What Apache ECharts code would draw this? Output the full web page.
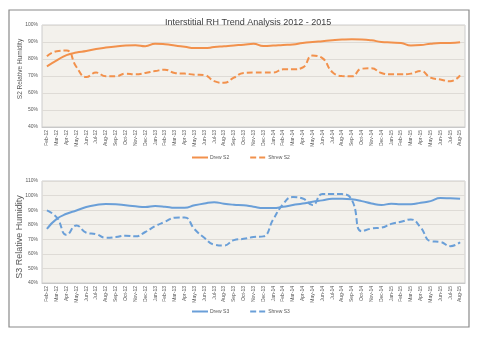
<!DOCTYPE html>
<html>
<head>
<meta charset="utf-8">
<script src="https://cdn.jsdelivr.net/npm/echarts@6/dist/echarts.min.js"></script>
<style>
html,body{margin:0;padding:0;background:#fff;}
#chart{width:479px;height:337px;}
</style>
</head>
<body>
<div id="chart"></div>
<script>
var months = ['Feb-12','Mar-12','Apr-12','May-12','Jun-12','Jul-12','Aug-12','Sep-12','Oct-12','Nov-12','Dec-12','Jan-13',
  'Feb-13','Mar-13','Apr-13','May-13','Jun-13','Jul-13','Aug-13','Sep-13','Oct-13','Nov-13','Dec-13','Jan-14',
  'Feb-14','Mar-14','Apr-14','May-14','Jun-14','Jul-14','Aug-14','Sep-14','Oct-14','Nov-14','Dec-14','Jan-15',
  'Feb-15','Mar-15','Apr-15','May-15','Jun-15','Jul-15','Aug-15'];
var drewS2 = [75.7, 79.2, 82.3, 83.8, 84.7, 85.9, 86.7, 87.3, 88, 88.1, 87.5, 89, 88.7, 88, 87.2, 86.4, 86.4, 87, 87.5, 88, 88.4, 89, 87.7, 87.9, 88.3, 88.6, 89.4, 90, 90.5, 91, 91.4, 91.6, 91.5, 91, 90, 89.7, 89.4, 88, 88.2, 89, 89.4, 89.4, 89.8];
var shrewS2 = [81.6, 84.6, 85, 75.3, 69.4, 72, 69.8, 69.8, 71.4, 71, 71.8, 72.9, 73.7, 71.8, 71.4, 70.8, 70.5, 67, 66, 69, 71.8, 72, 72, 72, 73.9, 73.9, 75, 82, 80.5, 72.4, 70, 69.8, 74.3, 74.5, 71.8, 71, 71, 71.4, 72.9, 69, 67.9, 66.9, 70.4];
var drewS3 = [77.2, 84, 87.5, 89.8, 92.1, 93.5, 94.2, 94, 93.3, 92.6, 92.1, 92.8, 92.4, 91.6, 91.6, 93.3, 94.6, 95.5, 94.4, 93.7, 93.3, 92.3, 91.4, 91.4, 92.3, 93.5, 94.5, 95.8, 96.7, 97.8, 97.8, 97.4, 96.2, 94.6, 93.5, 94.4, 94, 94, 95.1, 96.2, 98.3, 98.1, 97.8];
var shrewS3 = [89.8, 85, 73, 79.5, 74.5, 73.5, 71, 71.5, 72.5, 72, 75, 79, 82, 84.8, 85, 77, 71, 66.4, 65.7, 69.4, 70.3, 71.5, 72, 83.6, 94, 99, 98, 93.5, 101, 101, 101, 97, 75.5, 77.4, 78, 80.6, 82, 83.6, 78, 68.7, 68.2, 65.3, 68];
var yTicksS2 = {min: 40, max: 100, interval: 10};
var yTicksS3 = {min: 40, max: 110, interval: 10};

var orange = '#f2914c';
var blue = '#6a9fd8';
var font = 'Liberation Sans';
var gray = '#595959';

function xAxis(gridIndex) {
  return {
    type: 'category', gridIndex: gridIndex, data: months, boundaryGap: true,
    axisLine: {show: true, lineStyle: {color: '#c8c8c8'}},
    axisTick: {show: false},
    axisLabel: {rotate: 90, interval: 0, fontSize: 5, color: gray, fontFamily: font, margin: 3},
    splitLine: {show: false}
  };
}
function yAxis(gridIndex, t) {
  return {
    type: 'value', gridIndex: gridIndex, min: t.min, max: t.max, interval: t.interval,
    axisLine: {show: false}, axisTick: {show: false},
    axisLabel: {formatter: '{value}%', fontSize: 5, color: gray, fontFamily: font, margin: 4},
    splitLine: {show: true, lineStyle: {color: '#dedbd6', width: 1}}
  };
}
function line(name, data, color, dashed, idx) {
  return {
    name: name, type: 'line', xAxisIndex: idx, yAxisIndex: idx, data: data,
    smooth: true, showSymbol: false, symbol: 'circle', symbolSize: 0,
    lineStyle: {color: color, width: 2, type: dashed ? [6, 3] : 'solid'},
    itemStyle: {color: color}
  };
}
function legend(names, top) {
  return {
    data: names, left: 191, top: top, itemWidth: 16, itemHeight: 4, itemGap: 20,
    itemStyle: {opacity: 0},
    textStyle: {fontSize: 5, color: gray, fontFamily: font, padding: [0, 0, 0, -3]}, padding: 0
  };
}

var chart = echarts.init(document.getElementById('chart'), null, {renderer: 'canvas'});
chart.setOption({
  animation: false,
  backgroundColor: '#ffffff',
  title: {
    text: 'Interstitial RH Trend Analysis 2012 - 2015',
    left: 160, top: 13,
    textStyle: {fontSize: 9, fontWeight: 'normal', color: '#404040', fontFamily: font}
  },
  legend: [legend(['Drew S2', 'Shrew S2'], 155), legend(['Drew S3', 'Shrew S3'], 309)],
  grid: [
    {left: 42, top: 25, width: 423, height: 102, show: true, backgroundColor: '#f3f1ec', borderColor: '#cccccc', borderWidth: 1},
    {left: 42, top: 181, width: 423, height: 102, show: true, backgroundColor: '#f3f1ec', borderColor: '#cccccc', borderWidth: 1}
  ],
  xAxis: [xAxis(0), xAxis(1)],
  yAxis: [yAxis(0, yTicksS2), yAxis(1, yTicksS3)],
  series: [
    line('Drew S2', drewS2, orange, false, 0),
    line('Shrew S2', shrewS2, orange, true, 0),
    line('Drew S3', drewS3, blue, false, 1),
    line('Shrew S3', shrewS3, blue, true, 1)
  ],
  graphic: [
    {type: 'rect', shape: {x: 9, y: 10, width: 460, height: 317}, silent: true,
     style: {fill: 'none', stroke: '#8a8a8a', lineWidth: 1.2}},
    {type: 'text', x: 20, y: 69, rotation: Math.PI / 2,
     style: {text: 'S2 Relative Humidity', fontSize: 6.5, fill: gray, fontFamily: font, textAlign: 'center', textVerticalAlign: 'middle'}},
    {type: 'text', x: 20, y: 237, rotation: Math.PI / 2,
     style: {text: 'S3 Relative Humidity', fontSize: 9, fill: gray, fontFamily: font, textAlign: 'center', textVerticalAlign: 'middle'}}
  ]
});
</script>
</body>
</html>
